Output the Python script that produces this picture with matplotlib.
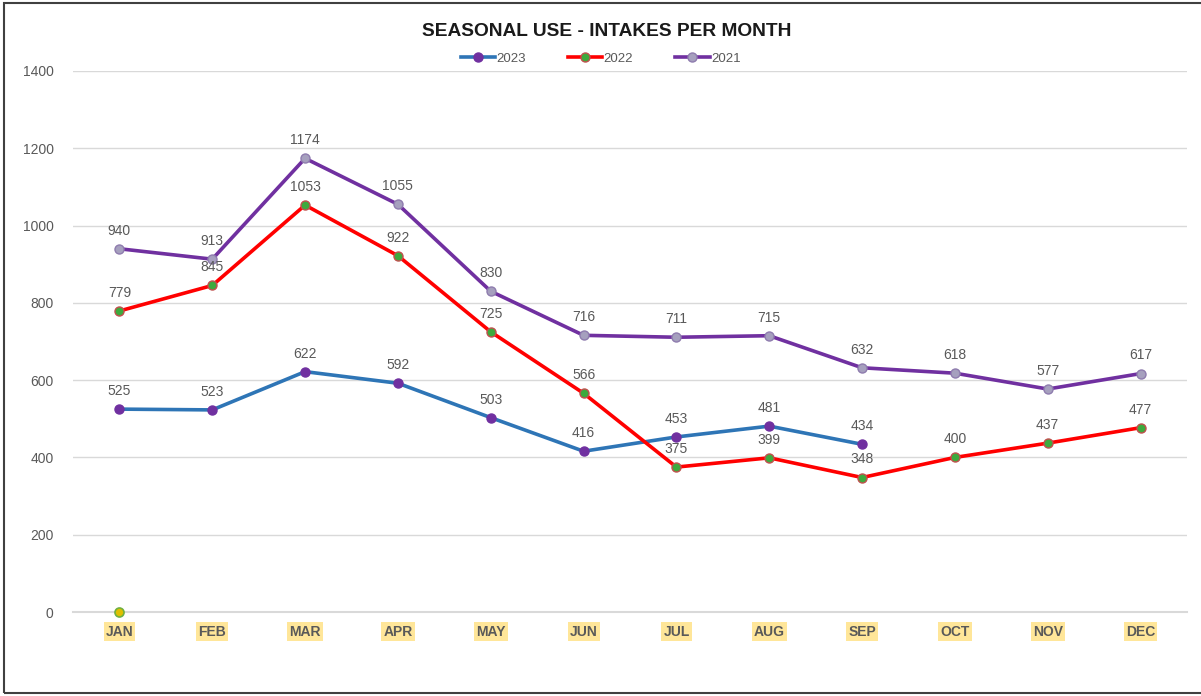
import matplotlib
matplotlib.use("Agg")
import matplotlib.pyplot as plt
from matplotlib.patches import Rectangle

plt.rcParams['font.family'] = ['Liberation Sans', 'DejaVu Sans']

# Data
months = ['JAN', 'FEB', 'MAR', 'APR', 'MAY', 'JUN', 'JUL', 'AUG', 'SEP', 'OCT', 'NOV', 'DEC']
y2023 = [525, 523, 622, 592, 503, 416, 453, 481, 434]
y2022 = [779, 845, 1053, 922, 725, 566, 375, 399, 348, 400, 437, 477]
y2021 = [940, 913, 1174, 1055, 830, 716, 711, 715, 632, 618, 577, 617]
stray = [0]  # lone point sitting on the axis at JAN
y_ticks = [0, 200, 400, 600, 800, 1000, 1200, 1400]

fig = plt.figure(figsize=(12.01, 6.96), dpi=100)
ax = fig.add_axes([73 / 1201, 1 - 612 / 696, 1114 / 1201, 541 / 696])

series = [
    ('2023', y2023, '#2E75B6', '#7030A0', '#7030A0'),
    ('2022', y2022, '#FF0000', '#3DAA3D', '#C0504D'),
    ('2021', y2021, '#7030A0', '#A6A0BE', '#8E7CAE'),
]
for name, vals, lc, mfc, mec in series:
    xs = list(range(len(vals)))
    ax.plot(xs, vals, color=lc, lw=2.6, marker='o', ms=6.5,
            mfc=mfc, mec=mec, mew=1, label=name, zorder=3)
    for x, v in zip(xs, vals):
        ax.annotate(str(v), (x, v), xytext=(0, 8), textcoords='offset points',
                    ha='center', va='bottom', fontsize=10, color='#595959', zorder=4)

ax.plot(range(len(stray)), stray, 'o', ms=6.5, mfc='#E0C000', mec='#70B040',
        mew=1.2, zorder=5, clip_on=False)

ax.set_xlim(-0.5, 11.5)
ax.set_ylim(0, 1400)
ax.set_yticks(y_ticks)
ax.yaxis.grid(True, color='#D9D9D9', lw=1)
ax.axhline(0, color='#D9D9D9', lw=1.5, zorder=1, clip_on=False)
ax.set_axisbelow(True)
for s in ax.spines.values():
    s.set_visible(False)
ax.tick_params(axis='both', length=0, labelsize=10, colors='#595959')
ax.tick_params(axis='y', pad=14)
ax.set_xticks(range(len(months)))
ax.set_xticklabels(months, fontweight='bold')
for lbl in ax.get_xticklabels():
    lbl.set_bbox(dict(boxstyle='square,pad=0.15', fc='#FFE699', ec='none'))
ax.tick_params(axis='x', pad=9)

fig.text(0.505, 1 - 31 / 696, 'SEASONAL USE - INTAKES PER MONTH', ha='center', va='center',
         fontsize=13.8, fontweight='bold', color='#1a1a1a')
leg = fig.legend(loc='center', bbox_to_anchor=(0.5, 1 - 59 / 696), ncol=3, frameon=False,
                 fontsize=9.5, handlelength=2.6, columnspacing=3.2, handletextpad=0.1)
for t in leg.get_texts():
    t.set_color('#595959')

fig.patches.append(Rectangle((4 / 1201, 3 / 696), 1.1, 690 / 696, transform=fig.transFigure,
                             fill=False, ec='#404040', lw=1.5))

fig.savefig('out.png', dpi=100)
